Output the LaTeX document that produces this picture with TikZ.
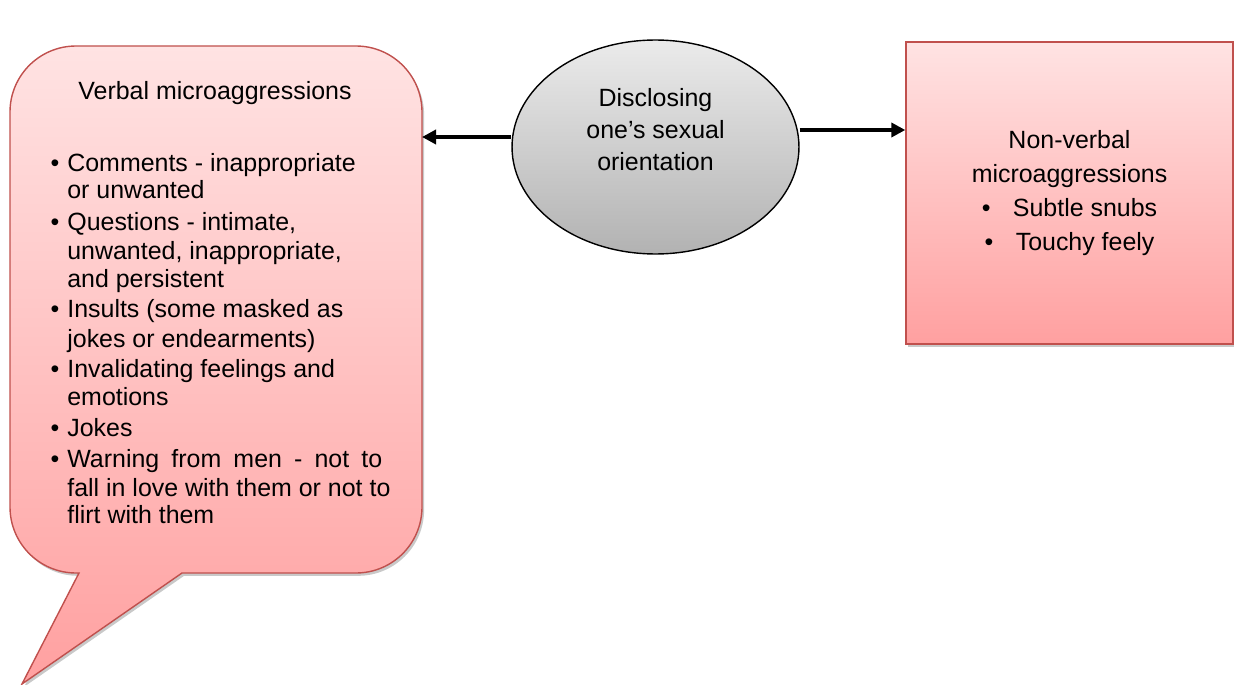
\documentclass[tikz,border=0pt]{standalone}
\usepackage{fontspec}
\setmainfont{Liberation Sans}
\usetikzlibrary{arrows.meta,shapes.geometric,shadows}
\definecolor{pinkTop}{HTML}{FFE3E3}
\definecolor{pinkBot}{HTML}{FFA0A0}
\definecolor{pinkEdge}{HTML}{C0504D}
\definecolor{greyTop}{HTML}{EBEBEB}
\definecolor{greyBot}{HTML}{B2B2B2}
\begin{document}
\begin{tikzpicture}[x=0.02cm,y=0.02cm,
  txt/.style={font=\fontsize{14.2pt}{16.6pt}\selectfont, inner sep=0pt},
  ln/.style={txt, anchor=base west},
  dot/.style={txt, anchor=base},
  boxfill/.style={top color=pinkTop, bottom color=pinkBot, draw=pinkEdge, line width=0.8pt},
  softshadow/.style={drop shadow={shadow xshift=1.2pt, shadow yshift=-1.6pt, opacity=0.3, fill=black!70}},
  conn/.style={line width=2.3pt, -{Triangle[length=0.28cm,width=0.28cm]}}]
\useasboundingbox (0,0) rectangle (1234,684);

% speech bubble for the verbal list
\path[boxfill, softshadow]
  (76,638) -- (356,638) arc[start angle=90, end angle=0, radius=66]
  -- (422,177) arc[start angle=0, end angle=-90, radius=66]
  -- (182,111) -- (22,0) -- (79,111)
  -- (76,111) arc[start angle=270, end angle=180, radius=66]
  -- (10,572) arc[start angle=180, end angle=90, radius=66] -- cycle;
\coordinate (verbalEdge) at (422,547);

\node[txt, anchor=base] (vhead) at (215,584) {Verbal microaggressions};

\node[dot] (b1) at (55,512) {\textbullet};
\node[ln] (v1) at (67,512) {Comments - inappropriate};
\node[ln] (v2) at (67,485) {or unwanted};
\node[dot] (b2) at (55,454) {\textbullet};
\node[ln] (v3) at (67,454) {Questions - intimate,};
\node[ln] (v4) at (67,425) {unwanted, inappropriate,};
\node[ln] (v5) at (67,397) {and persistent};
\node[dot] (b3) at (55,367) {\textbullet};
\node[ln] (v6) at (67,367) {Insults (some masked as};
\node[ln] (v7) at (67,337) {jokes or endearments)};
\node[dot] (b4) at (55,307) {\textbullet};
\node[ln] (v8) at (67,307) {Invalidating feelings and};
\node[ln] (v9) at (67,279) {emotions};
\node[dot] (b5) at (55,248) {\textbullet};
\node[ln] (v10) at (67,248) {Jokes};
\node[dot] (b6) at (55,217) {\textbullet};
\node[ln] (v11) at (67,217) {\makebox[6.3cm][s]{Warning from men - not to}};
\node[ln] (v12) at (67,188) {fall in love with them or not to};
\node[ln] (v13) at (67,161) {flirt with them};

% central ellipse
\node[ellipse, draw=black, line width=0.8pt, top color=greyTop, bottom color=greyBot,
      minimum width=5.74cm, minimum height=4.28cm, inner sep=0pt] (disc) at (655.5,537) {};
\node[txt, align=center, font=\fontsize{14.2pt}{18.2pt}\selectfont] (disctext) at (655.5,554)
  {Disclosing\\one’s sexual\\orientation};

% non-verbal box
\node[rectangle, boxfill, softshadow, minimum width=6.54cm, minimum height=6.04cm,
      inner sep=0pt, align=center, font=\fontsize{14.2pt}{19.3pt}\selectfont] (nonverbal) at (1069.5,491)
  {Non-verbal\\microaggressions\\\textbullet\hspace{0.45cm}Subtle snubs\\\textbullet\hspace{0.45cm}Touchy feely};

% connectors
\draw[conn] (disc.west |- verbalEdge) -- (verbalEdge);
\draw[conn] (disc.east |- 0,554) -- (nonverbal.west |- 0,554);
\end{tikzpicture}
\end{document}
